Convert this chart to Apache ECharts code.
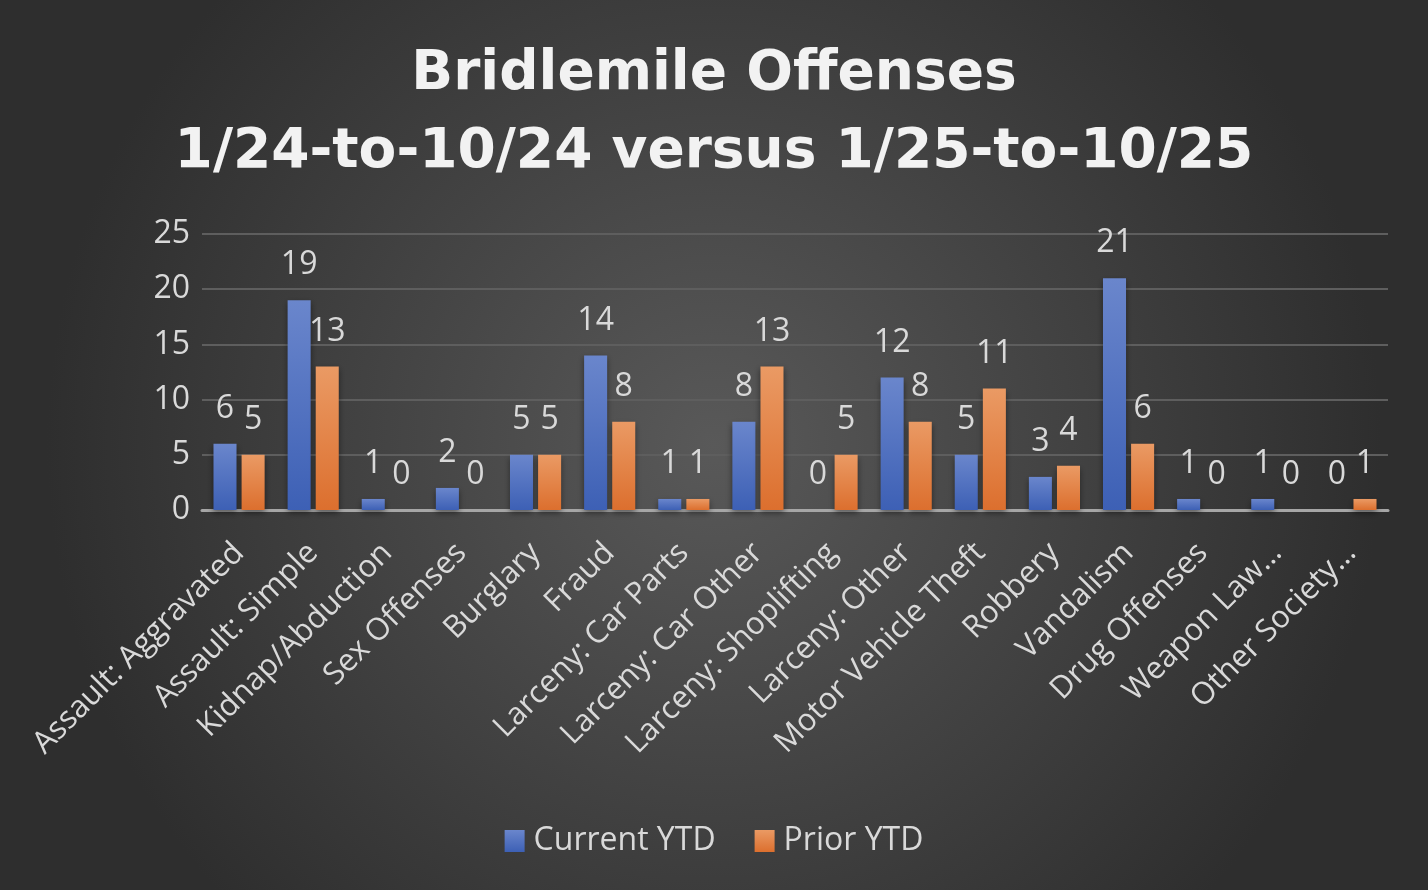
<!DOCTYPE html>
<html>
<head>
<meta charset="utf-8">
<script src="https://cdn.jsdelivr.net/npm/echarts@6/dist/echarts.min.js"></script>
<style>
  html, body { margin: 0; padding: 0; }
  #offenses { width: 1428px; height: 890px; }
</style>
</head>
<body>
<div id="offenses"></div>
<script>
var categories = [
  'Assault: Aggravated', 'Assault: Simple', 'Kidnap/Abduction', 'Sex Offenses',
  'Burglary', 'Fraud', 'Larceny: Car Parts', 'Larceny: Car Other',
  'Larceny: Shoplifting', 'Larceny: Other', 'Motor Vehicle Theft', 'Robbery',
  'Vandalism', 'Drug Offenses', 'Weapon Law…', 'Other Society…'
];
var currentYTD = [6, 19, 1, 2, 5, 14, 1, 8, 0, 12, 5, 3, 21, 1, 1, 0];
var priorYTD = [5, 13, 0, 0, 5, 8, 1, 13, 5, 8, 11, 4, 6, 0, 0, 1];
var yTicks = { min: 0, max: 25, interval: 5 };

var offenses = echarts.init(document.getElementById('offenses'));

var textColor = '#d9d9d9';
var font = 'Open Sans';

function grad(top, bottom) {
  return new echarts.graphic.LinearGradient(0, 0, 0, 1, [
    { offset: 0, color: top },
    { offset: 1, color: bottom }
  ]);
}

var barLabel = {
  show: true,
  position: 'top',
  distance: 19,
  color: textColor,
  fontFamily: font,
  fontSize: 32
};

var offensesOptions = {
  backgroundColor: {
    type: 'radial', x: 0.5, y: 0.5, r: 0.75,
    colorStops: [
      { offset: 0, color: '#595959' },
      { offset: 1, color: '#2e2e2e' }
    ]
  },
  title: {
    text: 'Bridlemile Offenses\n1/24-to-10/24 versus 1/25-to-10/25',
    left: 'center',
    top: 31,
    textStyle: {
      color: '#f2f2f2',
      fontFamily: 'DejaVu Sans',
      fontWeight: 'bold',
      fontSize: 55,
      lineHeight: 78
    }
  },
  legend: {
    top: 820,
    left: 'center',
    itemWidth: 20,
    itemHeight: 22,
    itemGap: 39,
    icon: 'rect',
    textStyle: { color: textColor, fontFamily: font, fontSize: 32, padding: [0, 0, 0, 4] },
    data: ['Current YTD', 'Prior YTD']
  },
  grid: { left: 202, right: 40, top: 234, bottom: 380 },
  xAxis: {
    type: 'category',
    data: categories,
    axisLine: { lineStyle: { color: '#a6a6a6', width: 3 } },
    axisTick: { show: false },
    axisLabel: {
      interval: 0,
      rotate: 45,
      margin: 38,
      color: textColor,
      fontFamily: font,
      fontSize: 31
    }
  },
  yAxis: {
    type: 'value',
    min: yTicks.min,
    max: yTicks.max,
    interval: yTicks.interval,
    axisLine: { show: false },
    axisTick: { show: false },
    axisLabel: { color: textColor, fontFamily: font, fontSize: 32, margin: 12 },
    splitLine: { lineStyle: { color: '#5e5e5e', width: 2 } }
  },
  series: [
    {
      name: 'Current YTD',
      type: 'bar',
      data: currentYTD,
      barGap: '22%',
      barCategoryGap: '31%',
      itemStyle: {
        color: grad('#6a86cc', '#3d60b5'),
        shadowBlur: 6,
        shadowColor: 'rgba(0,0,0,0.45)',
        shadowOffsetY: 3
      },
      label: barLabel
    },
    {
      name: 'Prior YTD',
      type: 'bar',
      data: priorYTD,
      itemStyle: {
        color: grad('#ea9a64', '#dc6f2e'),
        shadowBlur: 6,
        shadowColor: 'rgba(0,0,0,0.45)',
        shadowOffsetY: 3
      },
      label: barLabel
    }
  ]
};

offenses.setOption(offensesOptions);
</script>
</body>
</html>
